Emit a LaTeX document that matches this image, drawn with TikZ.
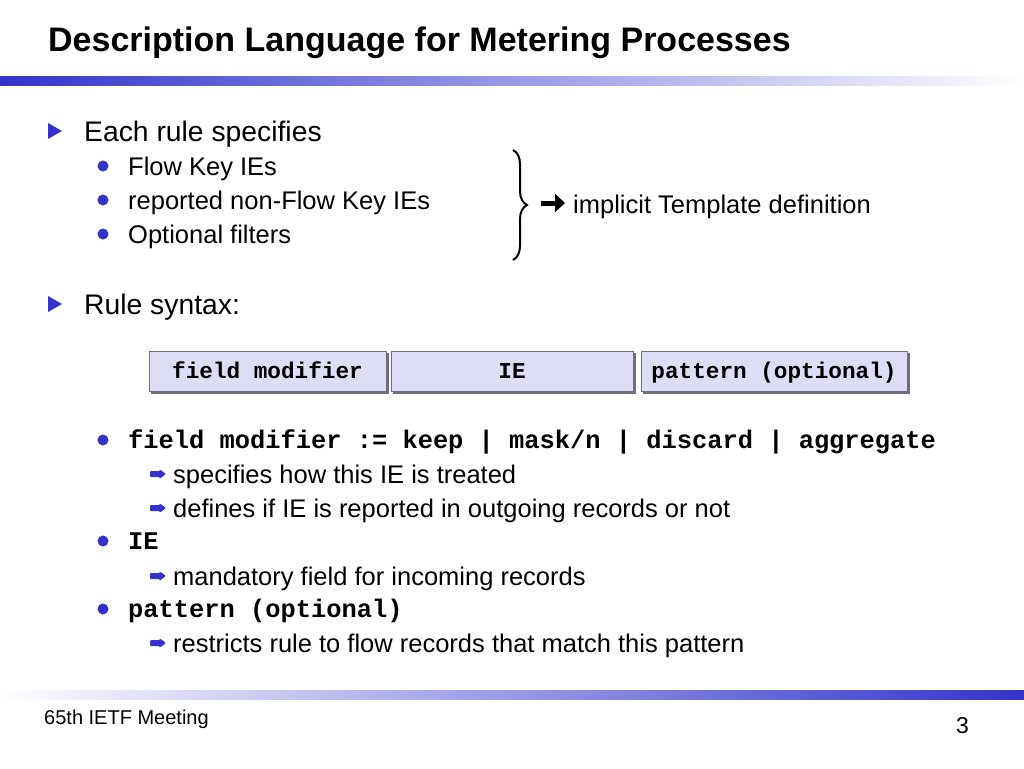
\documentclass[tikz,border=0pt]{standalone}
\usepackage{fontspec}
\setmainfont{Liberation Sans}
\setmonofont{Liberation Mono}
\usepackage{xcolor}
\usepackage{tikz}
\usetikzlibrary{positioning, shapes, calc, arrows.meta, decorations.pathreplacing}

\definecolor{slideblue}{HTML}{3333CC}
\definecolor{boxfill}{HTML}{DDDDF6}
\definecolor{boxline}{HTML}{6E6E80}

\tikzset{
	levelone/.style={anchor=base west, inner sep=0, font=\fontsize{28.3}{30}\selectfont},
	leveltwo/.style={anchor=base west, inner sep=0, font=\fontsize{25.5}{27}\selectfont},
	codeline/.style={anchor=base west, inner sep=0, font=\fontsize{25.4}{28}\selectfont\ttfamily\bfseries},
	syntaxbox/.style={draw=boxline, fill=boxfill, line width=1, minimum height=40, inner sep=0, text height=16, text depth=1, font=\fontsize{22.7}{24}\selectfont\ttfamily\bfseries}
}

\begin{document}
\begin{tikzpicture}[x=1pt, y=-1pt]
		
		\useasboundingbox (0,0) rectangle (1024,768);
		
		%% title and bars
		\node[anchor=base west, inner sep=0, font=\fontsize{34}{36}\selectfont\bfseries] (title) at (48,52) {Description Language for Metering Processes};
		\shade[left color=slideblue, right color=white] (0,76) rectangle (1024,85);
		\shade[left color=white, right color=slideblue] (0,690) rectangle (1024,699);
		
		%% first level bullets
		\foreach \y in {131, 304}
		\fill[slideblue] (48,\y-8) -- (62,\y) -- (48,\y+8) -- cycle;
		
		\node[levelone] (each) at (84,141) {Each rule specifies};
		\node[levelone] (syntax) at (84,314) {Rule syntax:};
		
		%% second level bullets
		\foreach \y in {166, 200, 234, 440, 541, 609}
		\fill[slideblue] (103,\y) circle (5.5);
		
		\node[leveltwo] (key) at (128,175) {Flow Key IEs};
		\node[leveltwo] (nonkey) at (128,209) {reported non-Flow Key IEs};
		\node[leveltwo] (filters) at (128,243) {Optional filters};
		
		%% brace
		\draw[line width=2, decorate, decoration={brace, amplitude=14}] (513,150) -- (513,260);
		\coordinate (tail) at (541,203);
		\coordinate (head) at (565,203);
		\draw[line width=5, -{Triangle[length=10, width=18]}] (tail) -- (head);
		\node[leveltwo] (impl) at (573,213) {implicit Template definition};
		
		%% rule syntax boxes
		\fill[boxline] (151,353) rectangle (389,394);
		\fill[boxline] (393,353) rectangle (636,394);
		\fill[boxline] (643,353) rectangle (910,394);
		\node[syntaxbox, minimum width=237] (fm) at (267.5,371) {field modifier};
		\node[syntaxbox, minimum width=242] (ie) at (512,371) {IE};
		\node[syntaxbox, minimum width=266] (pat) at (774,371) {pattern (optional)};
		
		%% explanations
		\node[codeline] (fmdef) at (128,448) {field modifier := keep | mask/n | discard | aggregate};
		\node[codeline] (iedef) at (128,549) {IE};
		\node[codeline] (patdef) at (128,617) {pattern (optional)};
		
		\foreach \y in {474, 508, 576, 643}
		\fill[slideblue, rounded corners=1] (150,\y-3) -- (160,\y-3) -- (160,\y-4.5) -- (166,\y) -- (160,\y+4.5) -- (160,\y+3) -- (150,\y+3) -- cycle;
		
		\node[leveltwo] (how) at (173,483) {specifies how this IE is treated};
		\node[leveltwo] (out) at (173,517) {defines if IE is reported in outgoing records or not};
		\node[leveltwo] (mand) at (173,585) {mandatory field for incoming records};
		\node[leveltwo] (restr) at (173,652) {restricts rule to flow records that match this pattern};
		
		%% footer
		\node[anchor=base west, inner sep=0, font=\fontsize{20}{22}\selectfont] (meet) at (44,724) {65th IETF Meeting};
		\node[anchor=base east, inner sep=0, font=\fontsize{23}{25}\selectfont] (page) at (969,733) {3};
		
		\end{tikzpicture}
\end{document}
